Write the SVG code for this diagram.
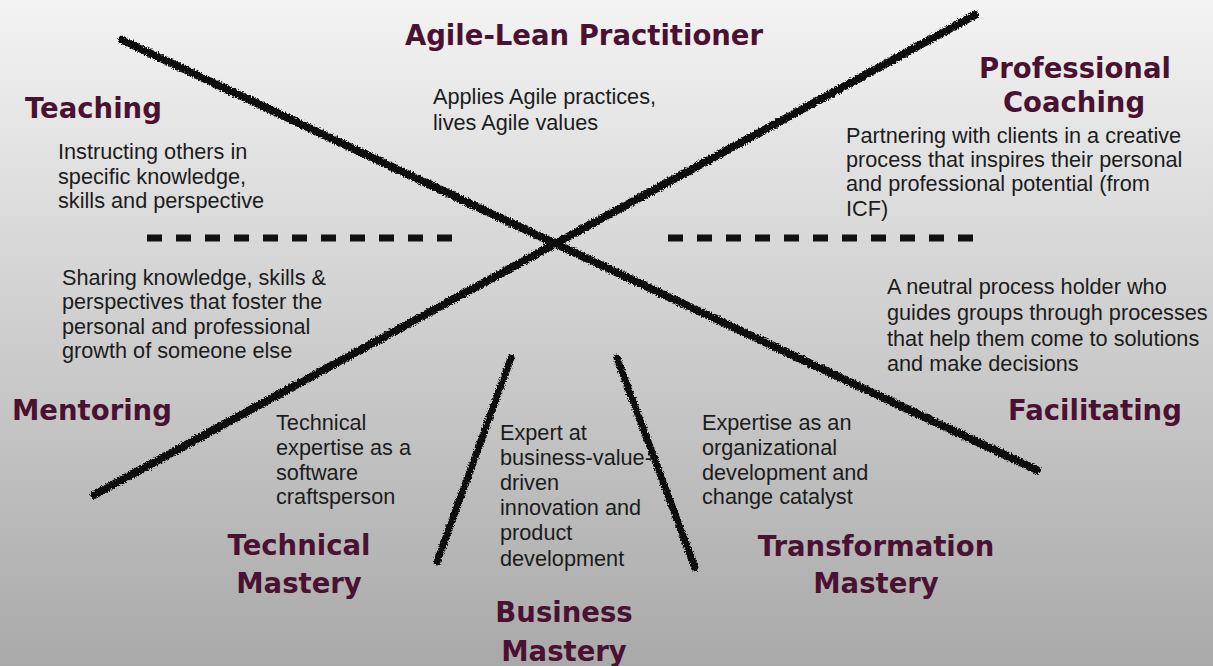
<svg xmlns="http://www.w3.org/2000/svg" width="1213" height="666" viewBox="0 0 1213 666">
<defs>
<linearGradient id="bg" x1="0" y1="0" x2="0" y2="1">
<stop offset="0" stop-color="#f3f3f3"/>
<stop offset="1" stop-color="#a9a9a9"/>
</linearGradient>
<filter id="rough" x="-5%" y="-5%" width="110%" height="110%">
<feTurbulence type="fractalNoise" baseFrequency="0.7" numOctaves="2" seed="3" result="n"/>
<feDisplacementMap in="SourceGraphic" in2="n" scale="5" xChannelSelector="R" yChannelSelector="G"/>
</filter>
</defs>
<style>
.title{font-family:"DejaVu Sans",Verdana,sans-serif;font-weight:bold;font-size:27.5px;fill:#4a1230}
.body{font-family:"Liberation Sans",Arial,sans-serif;font-size:21.7px;fill:#1c1c1c}
.mid{text-anchor:middle}
.stroke{stroke:#111;stroke-linecap:round;fill:none;filter:url(#rough)}
.dash{stroke:#111;stroke-width:7;stroke-dasharray:15 14;fill:none}
</style>
<rect width="1213" height="666" fill="url(#bg)"/>
<g id="connectors">
<line class="stroke" x1="122" y1="40" x2="1037" y2="470" stroke-width="8"/>
<line class="stroke" x1="94" y1="495" x2="975" y2="15" stroke-width="8"/>
<line class="stroke" x1="437" y1="562" x2="511" y2="358" stroke-width="7"/>
<line class="stroke" x1="617" y1="358" x2="695" y2="568" stroke-width="7"/>
<line class="dash" x1="147" y1="238" x2="452" y2="238"/>
<line class="dash" x1="668" y1="238" x2="973" y2="238"/>
</g>
<g id="agile-lean">
<text class="title mid" x="584" y="45">Agile-Lean Practitioner</text>
<text class="body" x="433" y="104">Applies Agile practices,</text>
<text class="body" x="433" y="130">lives Agile values</text>
</g>
<g id="teaching">
<text class="title" x="25" y="118">Teaching</text>
<text class="body" x="58" y="159">Instructing others in</text>
<text class="body" x="58" y="184">specific knowledge,</text>
<text class="body" x="58" y="208">skills and perspective</text>
</g>
<g id="coaching">
<text class="title mid" x="1075" y="78">Professional</text>
<text class="title mid" x="1074" y="112">Coaching</text>
<text class="body" x="846" y="143">Partnering with clients in a creative</text>
<text class="body" x="846" y="167">process that inspires their personal</text>
<text class="body" x="846" y="191">and professional potential (from</text>
<text class="body" x="846" y="216">ICF)</text>
</g>
<g id="mentoring">
<text class="body" x="62" y="285">Sharing knowledge, skills &amp;</text>
<text class="body" x="62" y="309">perspectives that foster the</text>
<text class="body" x="62" y="334">personal and professional</text>
<text class="body" x="62" y="358">growth of someone else</text>
<text class="title" x="12" y="420">Mentoring</text>
</g>
<g id="facilitating">
<text class="body" x="887" y="294">A neutral process holder who</text>
<text class="body" x="887" y="320">guides groups through processes</text>
<text class="body" x="887" y="346">that help them come to solutions</text>
<text class="body" x="887" y="371">and make decisions</text>
<text class="title" x="1008" y="420">Facilitating</text>
</g>
<g id="technical">
<text class="body" x="276" y="430">Technical</text>
<text class="body" x="276" y="455">expertise as a</text>
<text class="body" x="276" y="480">software</text>
<text class="body" x="276" y="504">craftsperson</text>
<text class="title mid" x="299" y="555">Technical</text>
<text class="title mid" x="299" y="593">Mastery</text>
</g>
<g id="business">
<text class="body" x="500" y="440">Expert at</text>
<text class="body" x="500" y="465">business-value-</text>
<text class="body" x="500" y="490">driven</text>
<text class="body" x="500" y="515">innovation and</text>
<text class="body" x="500" y="540">product</text>
<text class="body" x="500" y="566">development</text>
<text class="title mid" x="564" y="622">Business</text>
<text class="title mid" x="564" y="661">Mastery</text>
</g>
<g id="transformation">
<text class="body" x="702" y="430">Expertise as an</text>
<text class="body" x="702" y="455">organizational</text>
<text class="body" x="702" y="480">development and</text>
<text class="body" x="702" y="504">change catalyst</text>
<text class="title mid" x="876" y="556">Transformation</text>
<text class="title mid" x="876" y="593">Mastery</text>
</g>
</svg>
